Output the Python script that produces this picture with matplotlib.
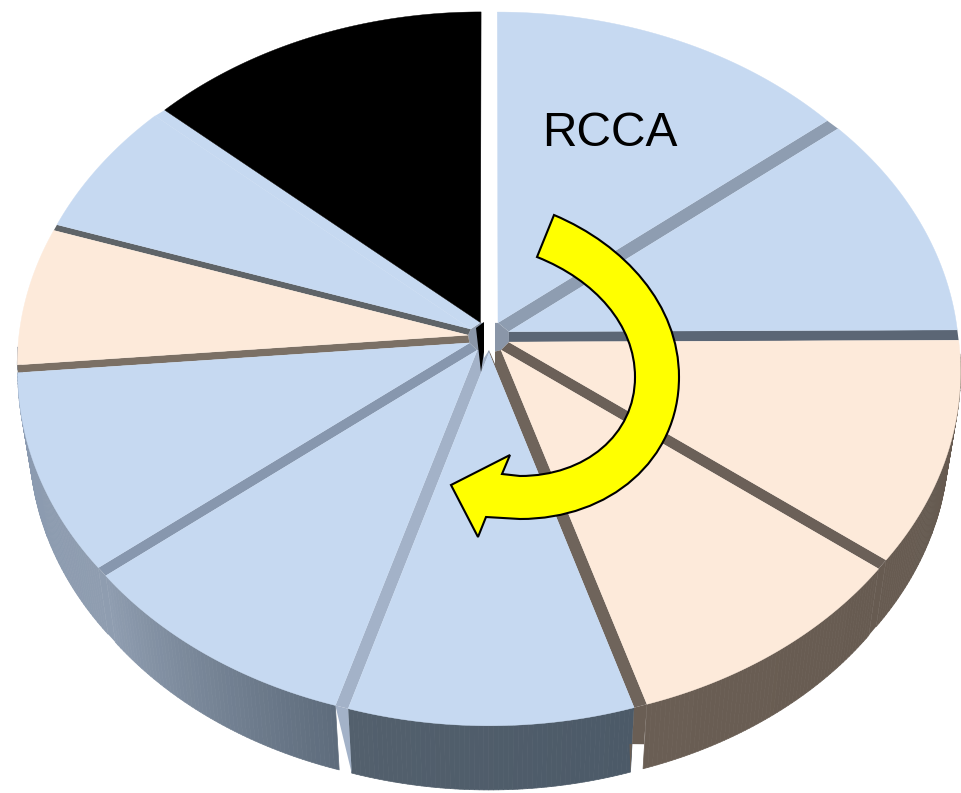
import numpy as np
import matplotlib
matplotlib.use("Agg")
import matplotlib.pyplot as plt
from matplotlib.collections import PolyCollection
from matplotlib.colors import to_rgb
from matplotlib.patches import PathPatch, Polygon
from matplotlib.path import Path

# slices, clockwise from the top (share of the circle, in degrees)
slice_values = [50.8, 38.9, 37.8, 35.3, 33.9, 34.5, 33.8, 23.5, 23.3, 48.2]
slice_colors = ["#C6D9F1", "#C6D9F1", "#FDEADA", "#FDEADA", "#C6D9F1",
                "#C6D9F1", "#C6D9F1", "#FDEADA", "#C6D9F1", "#000000"]
# colour of the side wall, first and last end of each slice going clockwise
wall_start = ["#8e9db1", "#5b6675", "#655a50", "#675b51", "#4c5a68",
              "#5e6c7c", "#8f9db0", "#8a9ab0", "#8a9ab0", "#000000"]
wall_end = ["#8e9db1", "#5b6675", "#675b51", "#6a5e54", "#53606d",
            "#8f9db0", "#8a9ab0", "#8a9ab0", "#8a9ab0", "#000000"]
# colour seen in the gap after each slice
gap_colors = ["#8e9db1", "#5b6675", "#6b6058", "#6f645b", "#a3b2c8",
              "#8797ae", "#7b7065", "#5f6468", "#C6D9F1", "#ffffff"]
label = "RCCA"

cx, cy = 489, 337
rx = 468
a, b = 353.0, 0.087
radius = 0.96
explode = 0.045
low_dx, low_dy, low_sy = 0.975, 70, 0.985


def project(u, v):
    return cx + rx * u / (1 + b * v), cy - a * v / (1 + b * v)


def project_low(u, v):
    x, y = project(u, v)
    return cx + (x - cx) * low_dx, cy + low_dy + (y - cy) * low_sy


def rim(t0, t1, mid, n=60):
    t = np.radians(np.linspace(t0, t1, n))
    m = np.radians(mid)
    u = radius * np.sin(t) + explode * np.sin(m)
    v = radius * np.cos(t) + explode * np.cos(m)
    return u, v


fig = plt.figure(figsize=(9.61, 7.93), dpi=100)
ax = fig.add_axes([0, 0, 1, 1])
ax.set_xlim(0, 961)
ax.set_ylim(793, 0)
ax.axis("off")

edges = np.concatenate([[0], np.cumsum(slice_values)])
edges = edges * 360.0 / edges[-1]
n = len(slice_values)
apex = []
first = []
last = []
first_low = []
last_low = []
faces = []
for i in range(n):
    t0, t1 = edges[i], edges[i + 1]
    mid = (t0 + t1) / 2
    m = np.radians(mid)
    au, av = explode * np.sin(m), explode * np.cos(m)
    apex.append(project(au, av))
    u, v = rim(t0, t1, mid)
    x, y = project(u, v)
    xl, yl = project_low(u, v)
    first.append((x[0], y[0]))
    last.append((x[-1], y[-1]))
    first_low.append((xl[0], yl[0]))
    last_low.append((xl[-1], yl[-1]))
    faces.append(np.column_stack([np.r_[apex[i][0], x], np.r_[apex[i][1], y]]))

    # outer wall, built from small quads so the colour can run along it
    t_lo, t_hi = max(t0, 92), min(t1, 268)
    if t_lo < t_hi:
        u, v = rim(t_lo, t_hi, mid)
        x, y = project(u, v)
        xl, yl = project_low(u, v)
        quads = []
        cols = []
        c0, c1 = np.array(to_rgb(wall_start[i])), np.array(to_rgb(wall_end[i]))
        for k in range(len(x) - 1):
            quads.append([(x[k], y[k]), (x[k + 1], y[k + 1]),
                          (xl[k + 1], yl[k + 1]), (xl[k], yl[k])])
            cols.append(c0 + (c1 - c0) * k / (len(x) - 2))
        ax.add_collection(PolyCollection(quads, facecolors=cols, edgecolors=cols,
                                         linewidths=0.5, zorder=1))

# hub and gaps between the slices
ax.add_patch(Polygon(apex, closed=True, fc="#8a96a8", ec="none", zorder=2))
for i in range(n):
    j = (i + 1) % n
    ax.add_patch(Polygon([apex[i], last[i], first[j], apex[j]], closed=True,
                         fc=gap_colors[i], ec="none", zorder=2))

# gaps carried down over the wall
for i in [2, 5]:
    ax.add_patch(Polygon([last[i], first[i + 1], first_low[i + 1], last_low[i]],
                         closed=True, fc=wall_end[i], ec="none", zorder=1.5))
i = 4
ax.add_patch(Polygon([last[i], first[i + 1], last_low[i]],
                     closed=True, fc=gap_colors[i], ec="none", zorder=2))
i = 3
ax.add_patch(Polygon([last[i], first[i + 1], first_low[i + 1],
                      (first_low[i + 1][0] - 1, first_low[i + 1][1] - 28),
                      (last[i][0] - 3, last[i][1] + 40)],
                     closed=True, fc=wall_end[i], ec="none", zorder=1.5))

for i in range(n):
    ax.add_patch(Polygon(faces[i], closed=True, fc=slice_colors[i],
                         ec=slice_colors[i], lw=0.3, zorder=3))

# dark tail of the black slice and white notch next to it
ax.add_patch(Polygon([(476, 328), (484, 322), (484, 352), (481, 372)],
                     closed=True, fc="#000000", ec="none", zorder=4))
ax.add_patch(Polygon([(484, 250), (495, 250), (495, 364), (489, 350), (484, 358)],
                     closed=True, fc="#ffffff", ec="none", zorder=4))

ax.text(542, 146, label, fontsize=34.5, family="Liberation Sans", color="#000000",
        ha="left", va="baseline", zorder=5)

# curved yellow arrow
verts = [(554, 215), (625, 245), (679, 305), (679, 377),
         (679, 460), (610, 519), (520, 519), (486, 517), (478, 537), (451, 485),
         (510, 455), (502, 474), (520, 476),
         (585, 476), (635, 435), (635, 377),
         (635, 325), (595, 280), (537, 257), (554, 215)]
codes = [Path.MOVETO, Path.CURVE4, Path.CURVE4, Path.CURVE4,
         Path.CURVE4, Path.CURVE4, Path.CURVE4, Path.LINETO, Path.LINETO, Path.LINETO,
         Path.LINETO, Path.LINETO, Path.LINETO,
         Path.CURVE4, Path.CURVE4, Path.CURVE4,
         Path.CURVE4, Path.CURVE4, Path.CURVE4, Path.CLOSEPOLY]
ax.add_patch(PathPatch(Path(verts, codes), fc="#FFFF00", ec="#000000", lw=1.5, zorder=6))

fig.savefig("out.png", dpi=100)
